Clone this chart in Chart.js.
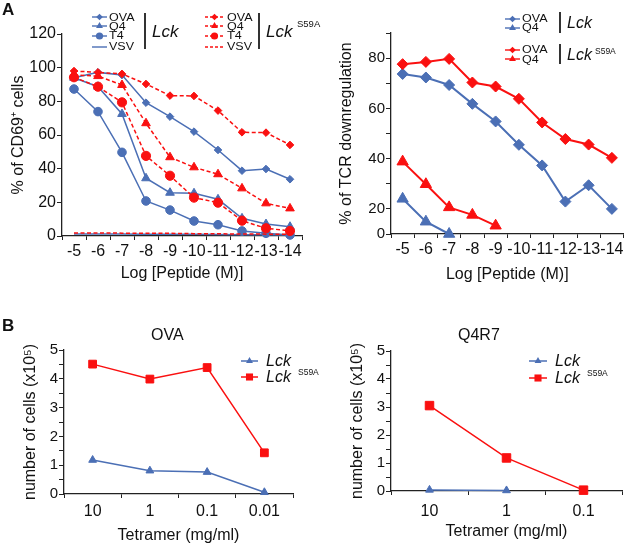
<!DOCTYPE html>
<html>
<head>
<meta charset="utf-8">
<script src="https://cdn.jsdelivr.net/npm/chart.js@4.4.0/dist/chart.umd.min.js"></script>
<style>
  body { margin: 0; background: #fff; font-family: 'Liberation Sans', Arial, Helvetica, sans-serif; color: #111; }
  #fig { position: relative; width: 631px; height: 546px; overflow: hidden; }
  canvas { position: absolute; }
  .t { position: absolute; white-space: nowrap; line-height: 1; }
  .lg { position: absolute; white-space: nowrap; line-height: 1; font-size: 12.5px; transform: scaleY(0.9); transform-origin: left center; }
  .lck { position: absolute; white-space: nowrap; line-height: 1; font-style: italic; }
  .bar { position: absolute; width: 1.6px; background: #333; }
</style>
</head>
<body>
<div id="fig">
  <canvas id="cd69" width="315" height="287" style="left:0;top:0"></canvas>
  <canvas id="tcr" width="311" height="287" style="left:320px;top:0"></canvas>
  <canvas id="ova" width="315" height="224" style="left:0;top:322px"></canvas>
  <canvas id="q4r7" width="311" height="224" style="left:320px;top:322px"></canvas>
</div>
<script>
// ---- data ----
const peptideLabels = ['-5', '-6', '-7', '-8', '-9', '-10', '-11', '-12', '-13', '-14'];

// A, left: % of CD69+ cells
const cd69LckOVA = [94, 97.2, 95.6, 79.2, 70.9, 62, 51.1, 38.8, 39.8, 33.7];
const cd69LckQ4 = [94, 88.7, 72.5, 34.3, 25.7, 25.4, 21.8, 10.5, 7.1, 5.5];
const cd69LckT4 = [87.3, 73.9, 49.7, 20.8, 15.4, 8.9, 6.7, 3, 1.6, 0.6];
const cd69LckVSV = [1.2, 1.2, 1.2, 1.1, 1.1, 1, 0.9, 0.8, 0.7, 0.6];
const cd69MutOVA = [98, 97.2, 96.3, 90.3, 83.4, 83.2, 74.5, 61.6, 61.4, 54.1];
const cd69MutQ4 = [95.6, 95, 89.7, 67, 46.8, 40.8, 36.7, 28.3, 19.4, 16.4];
const cd69MutT4 = [94.3, 88.7, 79.4, 47.6, 35.8, 22.8, 19.8, 9.1, 4.6, 3];
const cd69MutVSV = [1.8, 1.8, 1.7, 1.6, 1.6, 1.4, 1.3, 1.2, 1.1, 1];

// A, right: % of TCR downregulation
const tcrLckOVA = [73.7, 72.3, 69.3, 61.8, 54.8, 45.5, 37.3, 22.9, 29.4, 20];
const tcrLckQ4 = [24, 9.8, 0, null, null, null, null, null, null, null];
const tcrMutOVA = [77.6, 78.5, 79.7, 70.3, 68.7, 63.8, 54.4, 47.8, 45.6, 40.3];
const tcrMutQ4 = [38.8, 29.8, 20.6, 15.2, 6.6, null, null, null, null, null];
const tcrTicks = [0, 20, 30, 40, 50, 60, 70, 80, 90];

// B: number of cells (x10^5)
const ovaTetramer = ['10', '1', '0.1', '0.01'];
const ovaLck = [1.18, 0.81, 0.76, 0.06];
const ovaMut = [4.51, 3.99, 4.39, 1.43];
const q4r7Tetramer = ['10', '1', '0.1'];
const q4r7Lck = [0.04, 0.02, null];
const q4r7Mut = [3.05, 1.18, 0.03];

// ---- styling ----
const BLUE = '#4b6fb5';
const RED = '#fa1010';
const AXIS = '#222';

Chart.defaults.font.family = "'Liberation Sans', Arial, Helvetica, sans-serif";
Chart.defaults.color = '#111';
Chart.defaults.animation = false;
Chart.defaults.plugins.legend.display = false;
Chart.defaults.plugins.tooltip.enabled = false;

// y axis for TCR panel: 0-20 is squeezed to half height
class BrokenScale extends Chart.LinearScale {
  static id = 'broken';
  static defaults = Chart.LinearScale.defaults;
  getPixelForValue(value) {
    const t = value < 20 ? 10 + value / 2 : value;
    return this.getPixelForDecimal((t - 10) / (this.max - 10));
  }
  getValueForPixel(pixel) {
    const t = 10 + this.getDecimalForPixel(pixel) * (this.max - 10);
    return t < 20 ? (t - 10) * 2 : t;
  }
}
Chart.register(BrokenScale);

function series(data, color, shape, radius, width, dashed) {
  return {
    data,
    borderColor: color,
    backgroundColor: color,
    pointBackgroundColor: color,
    pointBorderColor: color,
    pointStyle: shape || 'circle',
    pointRadius: shape ? radius : 0,
    pointBorderWidth: 1,
    borderWidth: width,
    borderDash: dashed ? [4, 2.5] : [],
    tension: 0,
    clip: false
  };
}

function xAxis(labels, title, height, tickPad, titlePad) {
  return {
    type: 'category',
    labels,
    offset: true,
    grid: { display: true, drawOnChartArea: false, offset: true, tickLength: 4, color: AXIS, lineWidth: 1 },
    border: { display: true, color: AXIS, width: 1.3 },
    ticks: { font: { size: 16 }, padding: tickPad, autoSkip: false, maxRotation: 0, minRotation: 0, color: '#111' },
    title: { display: true, text: title, font: { size: 16 }, padding: { top: 0, bottom: titlePad }, color: '#111' },
    afterFit: s => { s.height = height; }
  };
}

function yAxis(o) {
  const axis = {
    type: o.type || 'linear',
    min: o.min,
    max: o.max,
    ticks: { stepSize: o.step, font: { size: o.tickSize }, padding: 1, autoSkip: false, color: '#111', callback: o.cb },
    grid: { display: true, drawOnChartArea: false, tickLength: 5, color: AXIS, lineWidth: 1 },
    border: { display: true, color: AXIS, width: 1.3 },
    title: { display: true, text: o.title, font: { size: 16 }, padding: { top: o.titlePad, bottom: 0 }, color: '#111' },
    afterFit: s => { s.width = o.width; }
  };
  if (o.ticks) axis.afterBuildTicks = s => { s.ticks = o.ticks.map(v => ({ value: v })); };
  return axis;
}

function makeChart(id, labels, datasets, x, y, padding) {
  return new Chart(document.getElementById(id), {
    type: 'line',
    data: { labels, datasets },
    options: {
      responsive: false,
      devicePixelRatio: 1,
      events: [],
      layout: { padding },
      scales: { x, y }
    }
  });
}

const intLabel = v => (Math.abs(v - Math.round(v)) < 1e-9 ? String(Math.round(v)) : '');

// A left
makeChart('cd69', peptideLabels, [
  series(cd69MutOVA, RED, 'rectRot', 3.8, 1.5, true),
  series(cd69MutQ4, RED, 'triangle', 5, 1.5, true),
  series(cd69MutT4, RED, 'circle', 4.6, 1.5, true),
  series(cd69MutVSV, RED, null, 0, 1.5, true),
  series(cd69LckOVA, BLUE, 'rectRot', 3.8, 1.5, false),
  series(cd69LckQ4, BLUE, 'triangle', 5, 1.5, false),
  series(cd69LckT4, BLUE, 'circle', 4.3, 1.5, false),
  series(cd69LckVSV, BLUE, null, 0, 1.5, false)
],
  xAxis(peptideLabels, 'Log [Peptide (M)]', 51, 2, 4),
  yAxis({ min: 0, max: 120, step: 20, tickSize: 16, width: 62, titlePad: 9, title: '% of CD69\u207A cells' }),
  { top: 34, right: 13, left: 0, bottom: 0 });

// A right
makeChart('tcr', peptideLabels, [
  series(tcrMutOVA, RED, 'rectRot', 5.5, 2, false),
  series(tcrMutQ4, RED, 'triangle', 6.5, 2, false),
  series(tcrLckOVA, BLUE, 'rectRot', 5.5, 2, false),
  series(tcrLckQ4, BLUE, 'triangle', 6.5, 2, false)
],
  xAxis(peptideLabels, 'Log [Peptide (M)]', 53, 2, 3),
  yAxis({ type: 'broken', min: 0, max: 90, tickSize: 15, width: 71, titlePad: 17, title: '% of TCR downregulation',
    ticks: tcrTicks, cb: v => (v % 20 === 0 && v <= 80 ? String(v) : '') }),
  { top: 33, right: 4, left: 0, bottom: 0 });

// B left
makeChart('ova', ovaTetramer, [
  series(ovaMut, RED, 'rect', 5.5, 1.5, false),
  series(ovaLck, BLUE, 'triangle', 4.5, 1.5, false)
],
  xAxis(ovaTetramer, 'Tetramer (mg/ml)', 52, 4, 1),
  yAxis({ min: 0, max: 5, step: 0.5, tickSize: 15, width: 64, titlePad: 21, title: 'number of cells (x10\u2075)', cb: intLabel }),
  { top: 28, right: 22, left: 0, bottom: 0 });

// B right
makeChart('q4r7', q4r7Tetramer, [
  series(q4r7Mut, RED, 'rect', 6, 1.5, false),
  series(q4r7Lck, BLUE, 'triangle', 4.5, 1.5, false)
],
  xAxis(q4r7Tetramer, 'Tetramer (mg/ml)', 55, 7, 5),
  yAxis({ min: 0, max: 5, step: 0.5, tickSize: 15, width: 71, titlePad: 28, title: 'number of cells (x10\u2075)', cb: intLabel }),
  { top: 29, right: 9, left: 0, bottom: 0 });

// ---- HTML legends and labels ----
const fig = document.getElementById('fig');

function marker(shape, cx, cy, r, color) {
  if (shape === 'circle') return `<circle cx="${cx}" cy="${cy}" r="${r}" fill="${color}"/>`;
  if (shape === 'rectRot') return `<polygon points="${cx},${cy - r} ${cx + r},${cy} ${cx},${cy + r} ${cx - r},${cy}" fill="${color}"/>`;
  if (shape === 'triangle') return `<polygon points="${cx},${cy - r} ${cx + r * 0.866},${cy + r / 2} ${cx - r * 0.866},${cy + r / 2}" fill="${color}"/>`;
  if (shape === 'rect') { const s = r * Math.SQRT1_2; return `<rect x="${cx - s}" y="${cy - s}" width="${2 * s}" height="${2 * s}" fill="${color}"/>`; }
  return '';
}

function add(html) { fig.insertAdjacentHTML('beforeend', html); }

function sample(left, cy, len, color, dashed, shape, r, width) {
  add(`<svg width="${len}" height="16" style="position:absolute;left:${left}px;top:${cy - 8}px">` +
    `<line x1="0" y1="8" x2="${len}" y2="8" stroke="${color}" stroke-width="${width}"${dashed ? ' stroke-dasharray="3 2"' : ''}/>` +
    marker(shape, len / 2, 8, r, color) + '</svg>');
}

function text(cls, left, cy, size, str, extra) {
  add(`<div class="${cls}" style="left:${left}px;top:${cy - size / 2}px;font-size:${size}px;${extra || ''}">${str}</div>`);
}

function bar(left, top, bottom) {
  add(`<div class="bar" style="left:${left}px;top:${top}px;height:${bottom - top}px"></div>`);
}

// panel letters and titles
text('t', 2, 9, 17, 'A', 'font-weight:bold');
text('t', 2, 325, 17, 'B', 'font-weight:bold');
text('t', 151, 335, 16, 'OVA');
text('t', 458, 335, 16, 'Q4R7');

// A left legend
const rowsA = [17, 26, 35.5, 46.5];
const namesA = ['OVA', 'Q4', 'T4', 'VSV'];
const shapesA = ['rectRot', 'triangle', 'circle', null];
const radiiA = [3.3, 4, 3.6, 0];
rowsA.forEach((cy, i) => {
  sample(92, cy, 15, BLUE, false, shapesA[i], radiiA[i], 1.4);
  text('lg', 109, cy, 12.5, namesA[i]);
  sample(205, cy, 19, RED, true, shapesA[i], radiiA[i], 1.4);
  text('lg', 227, cy, 12.5, namesA[i]);
});
bar(144, 13, 49);
text('lck', 152, 31, 17, 'Lck');
bar(258, 13, 49);
text('lck', 266, 31, 17, 'Lck');
text('t', 297, 24, 9.5, 'S59A');

// A right legend
sample(505, 18.5, 15, BLUE, false, 'rectRot', 3.3, 1.4);
text('lg', 522, 18.5, 12.5, 'OVA');
sample(505, 27.5, 15, BLUE, false, 'triangle', 4, 1.4);
text('lg', 522, 27.5, 12.5, 'Q4');
bar(559, 12, 33);
text('lck', 567, 23, 16, 'Lck');
sample(505, 49.5, 15, RED, false, 'rectRot', 3.3, 1.4);
text('lg', 522, 49.5, 12.5, 'OVA');
sample(505, 59, 15, RED, false, 'triangle', 4, 1.4);
text('lg', 522, 59, 12.5, 'Q4');
bar(559, 44, 64);
text('lck', 567, 55, 16, 'Lck');
text('t', 595, 51, 8.5, 'S59A');

// B left legend
sample(241, 360.5, 17, BLUE, false, 'triangle', 4, 1.5);
text('lck', 266, 360.5, 16, 'Lck');
sample(241, 377, 17, RED, false, 'rect', 5, 1.5);
text('lck', 266, 377, 16, 'Lck');
text('t', 298, 372.5, 8.5, 'S59A');

// B right legend
sample(529, 361, 18, BLUE, false, 'triangle', 4, 1.5);
text('lck', 555, 361, 16, 'Lck');
sample(529, 378, 18, RED, false, 'rect', 5, 1.5);
text('lck', 555, 378, 16, 'Lck');
text('t', 587, 373, 8.5, 'S59A');
</script>
</body>
</html>
